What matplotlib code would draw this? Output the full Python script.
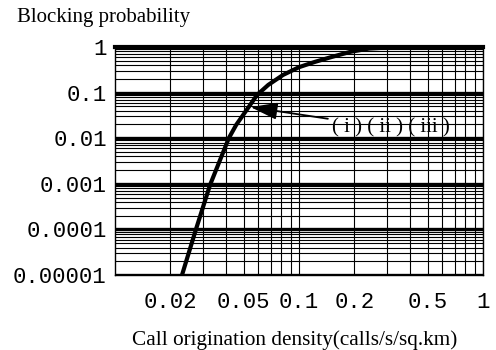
import numpy as np
import matplotlib
matplotlib.use("Agg")
import matplotlib.pyplot as plt

# curve (log-log)
density = [0.0231, 0.0275, 0.0328, 0.0415, 0.0455, 0.0528, 0.0591, 0.068,
           0.0818, 0.1, 0.122, 0.15, 0.19, 0.24, 0.32, 0.5, 1.0]
blocking = [1e-5, 1e-4, 9.4e-4, 0.01, 0.0195, 0.046, 0.0886, 0.147,
            0.243, 0.36, 0.47, 0.6, 0.78, 0.92, 0.98, 1.0, 1.0]

xticks = [0.02, 0.05, 0.1, 0.2, 0.5, 1]
xlabels = ["0.02", "0.05", "0.1", "0.2", "0.5", "1"]
yticks = [1, 0.1, 0.01, 0.001, 0.0001, 0.00001]
ylabels = ["1", "0.1", "0.01", "0.001", "0.0001", "0.00001"]

serif = "Liberation Serif"
mono = "Liberation Mono"

fig = plt.figure(figsize=(4.96, 3.5), dpi=100)
ax = fig.add_axes([0.232, 0.214, 0.742, 0.652])

ax.set_xscale("log")
ax.set_yscale("log")
ax.set_xlim(0.01, 1)
ax.set_ylim(1e-5, 1)

# grid: thin minor lines, heavy horizontal decade lines
ax.grid(True, which="minor", axis="both", color="black", lw=0.8)
ax.grid(True, which="major", axis="x", color="black", lw=0.8)
ax.grid(True, which="major", axis="y", color="black", lw=2.4)
ax.set_axisbelow(True)

ax.plot(density, blocking, color="black", lw=3, solid_capstyle="butt",
        solid_joinstyle="round")

ax.annotate("( i ) ( ii ) ( iii )", xy=(0.0545, 0.048), xytext=(0.151, 0.0165),
            fontsize=15, family=serif, va="center", ha="left",
            arrowprops=dict(arrowstyle="-|>,head_length=1.1,head_width=0.35",
                            color="black", lw=1.3, shrinkA=1, shrinkB=0))

ax.set_xticks(xticks)
ax.set_xticklabels(xlabels, family=mono, fontsize=16)
ax.set_yticks(yticks)
ax.set_yticklabels(ylabels, family=mono, fontsize=16)
ax.tick_params(which="both", length=0)
ax.tick_params(axis="x", pad=12)
ax.tick_params(axis="y", pad=6)

for s in ax.spines.values():
    s.set_color("black")
    s.set_linewidth(1)
ax.spines["top"].set_linewidth(3)

fig.text(0.034, 0.937, "Blocking probability", family=serif, fontsize=15,
         ha="left", va="baseline")
fig.text(0.594, 0.014, "Call origination density(calls/s/sq.km)", family=serif,
         fontsize=15.3, ha="center", va="baseline")

fig.savefig("out.png", dpi=100)
